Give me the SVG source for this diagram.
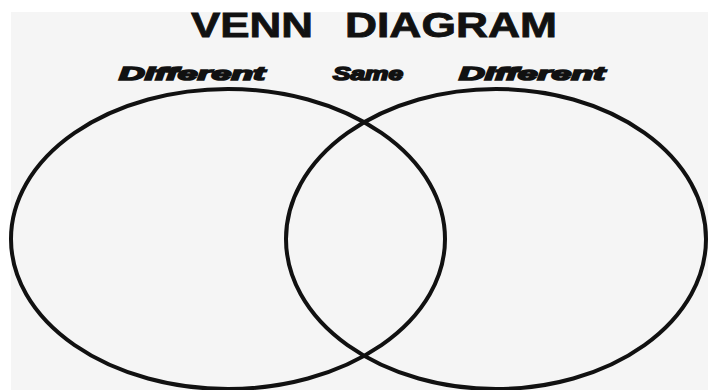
<svg xmlns="http://www.w3.org/2000/svg" width="708" height="390" viewBox="0 0 708 390">
<style>
.title{font-family:"Liberation Sans",Arial,sans-serif;font-weight:bold;font-size:35px;fill:#111;stroke:#111;stroke-width:0.8px;}
.lbl{font-family:"Liberation Sans",Arial,sans-serif;font-weight:bold;font-style:italic;font-size:18px;fill:#111;stroke:#111;stroke-width:1.6px;}
.set{fill:none;stroke:#111;stroke-width:4;}
</style>
<rect x="0" y="0" width="708" height="390" fill="#ffffff"/>
<rect x="11" y="12" width="697" height="378" fill="#f5f5f5"/>
<text class="title" x="191" y="37" textLength="122" lengthAdjust="spacingAndGlyphs">VENN</text>
<text class="title" x="345" y="37" textLength="212" lengthAdjust="spacingAndGlyphs">DIAGRAM</text>
<g id="left-set">
<ellipse class="set" cx="228" cy="239" rx="217" ry="150"/>
<text class="lbl" x="119" y="80" textLength="146" lengthAdjust="spacingAndGlyphs">Different</text>
</g>
<g id="overlap">
<text class="lbl" x="333" y="80" textLength="70" lengthAdjust="spacingAndGlyphs">Same</text>
</g>
<g id="right-set">
<ellipse class="set" cx="496" cy="239" rx="210" ry="150"/>
<text class="lbl" x="459" y="80" textLength="146" lengthAdjust="spacingAndGlyphs">Different</text>
</g>
<g id="connectors"/>
</svg>
